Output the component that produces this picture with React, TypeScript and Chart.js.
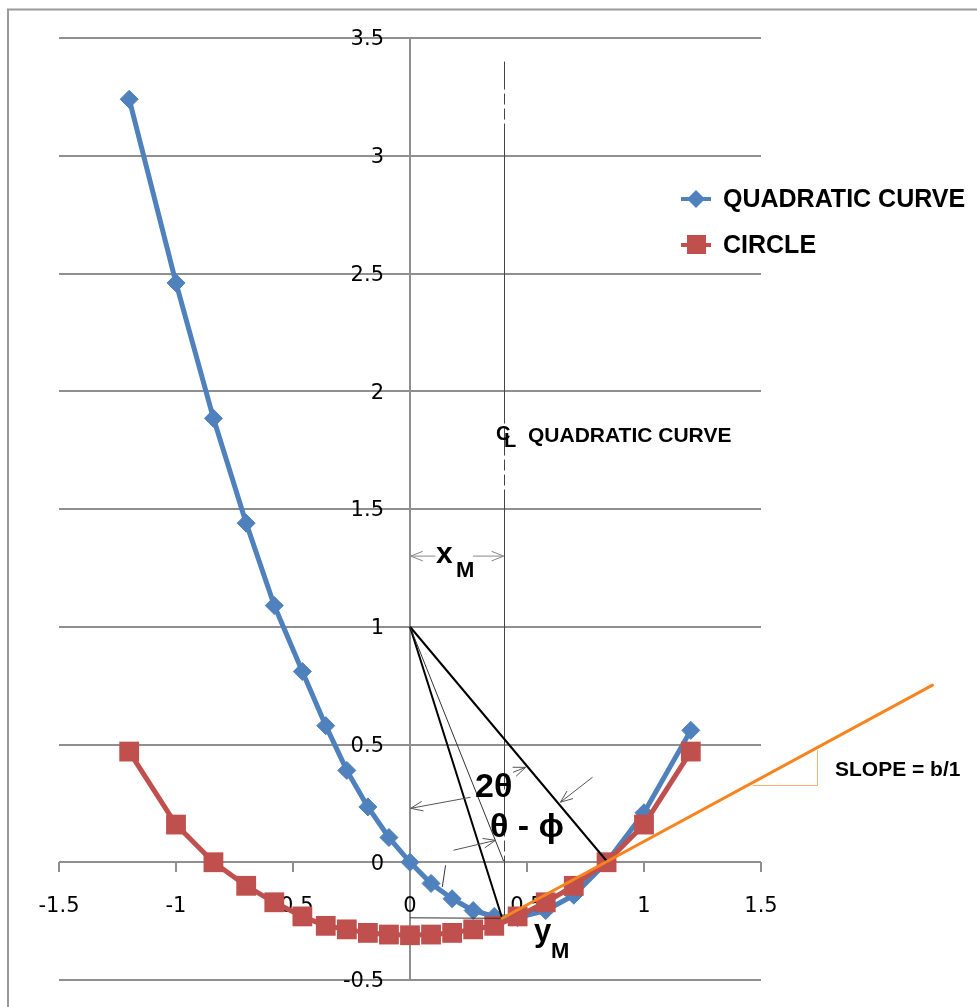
import React, { useEffect, useRef } from 'react';
import { Chart, registerables } from 'chart.js';

Chart.register(...registerables);

// ---- data ----
const X_VALUES = [-1.2, -1.0, -0.84, -0.7, -0.58, -0.46, -0.36, -0.27, -0.18, -0.09, 0, 0.09, 0.18, 0.27, 0.36, 0.46, 0.58, 0.7, 0.84, 1.0, 1.2];
const QUADRATIC_Y = [3.24, 2.46, 1.885, 1.44, 1.09, 0.81, 0.58, 0.39, 0.235, 0.105, 0, -0.09, -0.155, -0.205, -0.23, -0.235, -0.205, -0.14, 0, 0.21, 0.56];
const CIRCLE_Y = [0.47, 0.16, 0.0, -0.1, -0.17, -0.23, -0.27, -0.285, -0.3, -0.307, -0.31, -0.307, -0.3, -0.285, -0.27, -0.23, -0.17, -0.1, 0.0, 0.16, 0.47];
const X_TICKS = [-1.5, -1, -0.5, 0, 0.5, 1, 1.5];
const Y_TICKS = [-0.5, 0, 0.5, 1, 1.5, 2, 2.5, 3, 3.5];
const SERIES_NAMES = ['QUADRATIC CURVE', 'CIRCLE'];

// annotation geometry in data units
const CENTER = [0, 1];
const VERTEX = [0.394, -0.238];
const CIRCLE_ZERO = [0.845, 0.0];
const CL_X = 0.4;
const CL_TOP = 3.4;
const THIN_END = [0.4, 0.005];
const TANGENT_END = [2.233, 0.752];
const SLOPE_TRI = [[1.464, 0.327], [1.741, 0.327], [1.741, 0.476]];
const XM_Y = 1.3;

const BLUE = '#4F81BD';
const RED = '#C0504D';
const ORANGE = '#F7841E';
const GRID = '#8f8f8f';
const TICK_FONT = '21px "DejaVu Sans", sans-serif';
const BOLD = (s: number) => `bold ${s}px "Liberation Sans", Arial, "DejaVu Sans", sans-serif`;

const fmt = (v: number) => String(v);

function arrow(ctx: CanvasRenderingContext2D, x1: number, y1: number, x2: number, y2: number) {
  ctx.beginPath();
  ctx.moveTo(x1, y1);
  ctx.lineTo(x2, y2);
  const a = Math.atan2(y2 - y1, x2 - x1);
  const L = 13;
  const s = 0.38;
  ctx.moveTo(x2 - L * Math.cos(a - s), y2 - L * Math.sin(a - s));
  ctx.lineTo(x2, y2);
  ctx.lineTo(x2 - L * Math.cos(a + s), y2 - L * Math.sin(a + s));
  ctx.stroke();
}

const drawPlugin = {
  id: 'drawPlugin',
  beforeDraw(chart: any) {
    const ctx: CanvasRenderingContext2D = chart.ctx;
    ctx.save();
    ctx.fillStyle = '#ffffff';
    ctx.fillRect(0, 0, chart.width, chart.height);
    ctx.strokeStyle = '#9a9a9a';
    ctx.lineWidth = 2;
    ctx.beginPath();
    ctx.moveTo(8, chart.height);
    ctx.lineTo(8, 9.5);
    ctx.lineTo(chart.width, 9.5);
    ctx.stroke();
    ctx.restore();
  },
  beforeDatasetsDraw(chart: any) {
    const ctx: CanvasRenderingContext2D = chart.ctx;
    const xs = chart.scales.x;
    const ys = chart.scales.y;
    const px = (v: number) => xs.getPixelForValue(v);
    const py = (v: number) => ys.getPixelForValue(v);
    ctx.save();
    ctx.strokeStyle = GRID;
    ctx.lineWidth = 2;
    // y axis at x = 0
    ctx.beginPath();
    ctx.moveTo(Math.round(px(0)), py(Y_TICKS[Y_TICKS.length - 1]));
    ctx.lineTo(Math.round(px(0)), py(Y_TICKS[0]));
    ctx.stroke();
    // x axis at y = 0 with tick marks
    const y0 = Math.round(py(0));
    ctx.beginPath();
    ctx.moveTo(px(X_TICKS[0]), y0);
    ctx.lineTo(px(X_TICKS[X_TICKS.length - 1]), y0);
    X_TICKS.forEach((t) => {
      const x = Math.round(px(t));
      ctx.moveTo(x, y0);
      ctx.lineTo(x, y0 + 10);
    });
    ctx.stroke();
    // tick labels
    ctx.fillStyle = '#000';
    ctx.font = TICK_FONT;
    ctx.textAlign = 'center';
    ctx.textBaseline = 'middle';
    X_TICKS.forEach((t) => ctx.fillText(fmt(t), px(t), y0 + 45));
    ctx.textAlign = 'right';
    Y_TICKS.forEach((t) => ctx.fillText(fmt(t), px(0) - 26, py(t) + 2));
    ctx.restore();
  },
  afterDatasetsDraw(chart: any) {
    const ctx: CanvasRenderingContext2D = chart.ctx;
    const xs = chart.scales.x;
    const ys = chart.scales.y;
    const px = (v: number) => xs.getPixelForValue(v);
    const py = (v: number) => ys.getPixelForValue(v);
    ctx.save();

    // centre line of the quadratic curve
    ctx.strokeStyle = '#444';
    ctx.lineWidth = 1;
    ctx.setLineDash([28, 4, 11, 4, 11, 4, 300, 4]);
    ctx.beginPath();
    ctx.moveTo(Math.round(px(CL_X)) + 0.5, py(CL_TOP));
    ctx.lineTo(Math.round(px(CL_X)) + 0.5, py(VERTEX[1]));
    ctx.stroke();
    ctx.setLineDash([]);

    // thick black radii
    ctx.strokeStyle = '#000';
    ctx.lineWidth = 2;
    ctx.beginPath();
    ctx.moveTo(px(CENTER[0]), py(CENTER[1]));
    ctx.lineTo(px(VERTEX[0]), py(VERTEX[1]));
    ctx.moveTo(px(CENTER[0]), py(CENTER[1]));
    ctx.lineTo(px(CIRCLE_ZERO[0]), py(CIRCLE_ZERO[1]));
    ctx.stroke();

    // thin lines
    ctx.strokeStyle = '#333';
    ctx.lineWidth = 1;
    ctx.beginPath();
    ctx.moveTo(px(CENTER[0]), py(CENTER[1]));
    ctx.lineTo(px(THIN_END[0]), py(THIN_END[1]));
    ctx.moveTo(px(0), py(-0.236));
    ctx.lineTo(px(VERTEX[0]), py(VERTEX[1]));
    ctx.moveTo(px(0.152), py(-0.013));
    ctx.lineTo(px(0.138), py(-0.105));
    ctx.stroke();

    // small arrows
    ctx.strokeStyle = '#555';
    ctx.lineWidth = 1;
    arrow(ctx, px(0.259), py(0.276), px(0.003), py(0.229));
    arrow(ctx, px(0.44), py(0.382), px(0.494), py(0.403));
    arrow(ctx, px(0.78), py(0.361), px(0.643), py(0.255));
    arrow(ctx, px(0.186), py(0.051), px(0.365), py(0.093));
    ctx.strokeStyle = '#888';
    arrow(ctx, px(0.109), py(XM_Y), px(0.003), py(XM_Y));
    arrow(ctx, px(0.269), py(XM_Y), px(CL_X), py(XM_Y));

    // tangent line
    ctx.strokeStyle = ORANGE;
    ctx.lineWidth = 3;
    ctx.lineCap = 'round';
    ctx.beginPath();
    ctx.moveTo(px(VERTEX[0]), py(VERTEX[1]));
    ctx.lineTo(px(TANGENT_END[0]), py(TANGENT_END[1]));
    ctx.stroke();
    ctx.lineCap = 'butt';
    ctx.strokeStyle = '#F9B070';
    ctx.lineWidth = 1;
    ctx.beginPath();
    ctx.moveTo(px(SLOPE_TRI[0][0]), Math.round(py(SLOPE_TRI[0][1])) + 0.5);
    ctx.lineTo(Math.round(px(SLOPE_TRI[1][0])) + 0.5, Math.round(py(SLOPE_TRI[1][1])) + 0.5);
    ctx.lineTo(Math.round(px(SLOPE_TRI[2][0])) + 0.5, py(SLOPE_TRI[2][1]));
    ctx.stroke();

    // texts
    ctx.fillStyle = '#000';
    ctx.textAlign = 'left';
    ctx.textBaseline = 'alphabetic';
    ctx.font = BOLD(21);
    ctx.fillText('SLOPE = b/1', 835, 776);
    ctx.font = BOLD(20);
    ctx.fillText('C', 496, 440);
    ctx.fillText('L', 504, 447);
    ctx.font = BOLD(21);
    ctx.fillText('QUADRATIC CURVE', 528, 442);
    ctx.font = BOLD(30);
    ctx.fillText('x', 436, 563);
    ctx.font = BOLD(22);
    ctx.fillText('M', 456, 577);
    ctx.font = BOLD(31);
    ctx.fillText('y', 534, 941);
    ctx.font = BOLD(22);
    ctx.fillText('M', 551, 958);
    ctx.font = BOLD(34);
    ctx.fillText('2θ', 475, 797);
    ctx.fillText('θ - ϕ', 490, 837);

    // legend
    const items = [
      { name: SERIES_NAMES[0], color: BLUE, y: 199, shape: 'diamond' },
      { name: SERIES_NAMES[1], color: RED, y: 245, shape: 'square' },
    ];
    items.forEach((it) => {
      ctx.strokeStyle = it.color;
      ctx.fillStyle = it.color;
      ctx.lineWidth = 4;
      ctx.beginPath();
      ctx.moveTo(681, it.y);
      ctx.lineTo(711, it.y);
      ctx.stroke();
      ctx.beginPath();
      if (it.shape === 'diamond') {
        const r = 9;
        ctx.moveTo(696, it.y - r);
        ctx.lineTo(696 + r, it.y);
        ctx.lineTo(696, it.y + r);
        ctx.lineTo(696 - r, it.y);
        ctx.closePath();
      } else {
        ctx.rect(687, it.y - 10, 19, 19);
      }
      ctx.fill();
      ctx.fillStyle = '#000';
      ctx.font = BOLD(25);
      ctx.fillText(it.name, 723, it.y + 8);
    });

    ctx.restore();
  },
};

export default function App() {
  const ref = useRef<HTMLCanvasElement>(null);
  useEffect(() => {
    const canvas = ref.current!;
    const chart = new Chart(canvas, {
      type: 'scatter',
      data: {
        datasets: [
          {
            label: SERIES_NAMES[1],
            data: X_VALUES.map((x, i) => ({ x, y: CIRCLE_Y[i] })),
            showLine: true,
            borderColor: RED,
            backgroundColor: RED,
            borderWidth: 5,
            borderJoinStyle: 'round',
            pointStyle: 'rect',
            pointRadius: 14,
            pointBorderWidth: 0,
            order: 0,
          },
          {
            label: SERIES_NAMES[0],
            data: X_VALUES.map((x, i) => ({ x, y: QUADRATIC_Y[i] })),
            showLine: true,
            borderColor: BLUE,
            backgroundColor: BLUE,
            borderWidth: 5,
            borderJoinStyle: 'round',
            pointStyle: 'rectRot',
            pointRadius: 9,
            pointBorderWidth: 1,
            order: 1,
          },
        ],
      } as any,
      options: {
        responsive: false,
        animation: false,
        devicePixelRatio: 1,
        layout: { padding: { left: 59, right: 216, top: 38, bottom: 27 } },
        plugins: { legend: { display: false }, tooltip: { enabled: false } },
        scales: {
          x: { type: 'linear', min: -1.5, max: 1.5, display: false },
          y: {
            type: 'linear',
            min: -0.5,
            max: 3.5,
            ticks: { display: false, stepSize: 0.5 },
            grid: { color: GRID, lineWidth: 2, drawTicks: false },
            border: { display: false },
            afterFit: (s: any) => { s.width = 0; },
          },
        },
      } as any,
      plugins: [drawPlugin],
    });
    return () => chart.destroy();
  }, []);
  return (
    <canvas
      ref={ref}
      width={977}
      height={1007}
      style={{ position: 'absolute', left: 0, top: 0, width: 977, height: 1007 }}
    />
  );
}
